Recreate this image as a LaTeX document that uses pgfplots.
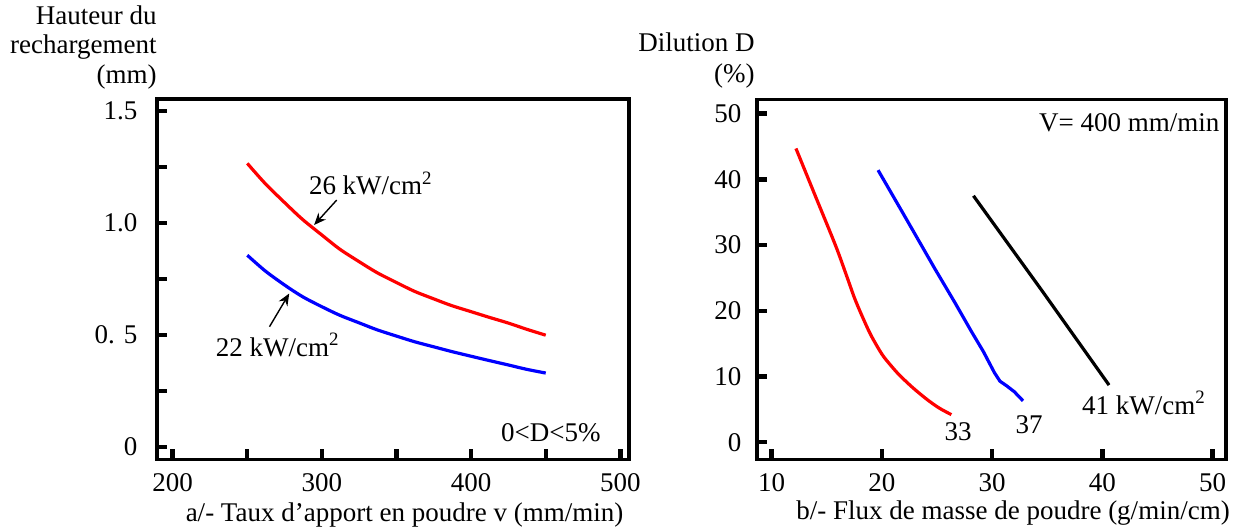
\documentclass[border=0pt]{standalone}
\usepackage{pgfplots}
\pgfplotsset{compat=1.18}
\usepackage{fontspec}
\setmainfont{Liberation Serif}
\usetikzlibrary{arrows.meta}

\definecolor{cred}{RGB}{255,0,0}
\definecolor{cblue}{RGB}{0,0,255}

\pgfplotsset{
  panel/.style={
    scale only axis,
    anchor=south west,
    height=180pt,
    axis line style={line width=1.8pt},
    tick align=inside,
    tick pos=left,
    major tick length=5pt,
    tick style={/tikz/line width=2.2pt, /tikz/black, /tikz/line cap=butt},
    tick label style={font=\fontsize{13.5}{15}\selectfont},
    xticklabel style={anchor=north, inner sep=0pt, yshift=-7pt},
    every axis plot/.append style={line width=1.6pt},
  },
}

\begin{document}
\begin{tikzpicture}
\fontsize{13.5}{15}\selectfont

% a/- hauteur du rechargement
\begin{axis}[panel,
    at={(78.35pt,35.85pt)}, width=236.3pt,
    xmin=189.3, xmax=506, ymin=-0.056, ymax=1.551,
    xtick={200,250,300,350,400,450,500},
    xticklabels={200,,300,,400,,500},
    ytick={0,0.25,0.5,0.75,1.0,1.25,1.5},
    yticklabels={0,,0. 5,,1.0,,1.5},
    yticklabel style={anchor=east, inner sep=0pt, xshift=-9.5pt},
  ]
  % 26 kW/cm2
  \addplot[cred, smooth] coordinates {
    (250,1.265) (262,1.175) (275,1.090) (287,1.015) (300,0.945)
    (312,0.882) (325,0.826) (337,0.777) (350,0.733) (362,0.694)
    (375,0.660) (387,0.630) (400,0.603) (412,0.578) (425,0.552)
    (437,0.525) (450,0.498)
  };
  % 22 kW/cm2
  \addplot[cblue, smooth] coordinates {
    (250,0.855) (262,0.785) (275,0.722) (287,0.670) (300,0.625)
    (312,0.587) (325,0.553) (337,0.522) (350,0.494) (362,0.469)
    (375,0.446) (387,0.425) (400,0.404) (412,0.385) (425,0.365)
    (437,0.346) (450,0.329)
  };
  \node[inner sep=0pt] at (axis cs:332.8,1.176) {26 kW/cm\textsuperscript{2}};
  \draw[line width=0.7pt, -{Stealth[length=6pt,width=5pt]}] (axis cs:309.9,1.101) -- (axis cs:294.8,0.99);
  \node[inner sep=0pt] at (axis cs:270.4,0.454) {22 kW/cm\textsuperscript{2}};
  \draw[line width=0.7pt, -{Stealth[length=6pt,width=5pt]}] (axis cs:264.9,0.536) -- (axis cs:278.1,0.684);
  \node[inner sep=0pt, anchor=east] at (axis cs:487,0.061) {0<D<5\%};
\end{axis}

% b/- dilution
\begin{axis}[panel,
    at={(378.35pt,35.85pt)}, width=234.5pt,
    xmin=8.64, xmax=51.18, ymin=-2.59, ymax=52.18,
    xtick={10,20,30,40,50},
    xticklabels={10,20,30,40,50},
    ytick={0,10,20,30,40,50},
    yticklabels={0,10,20,30,40,50},
    yticklabel style={anchor=east, inner sep=0pt, xshift=-7.5pt},
  ]
  % 33 kW/cm2
  \addplot[cred, smooth] coordinates {
    (12.2,44.7) (14.0,37.3) (15.8,29.9) (16.8,25.3) (17.5,22.0)
    (18.2,19.2) (19.0,16.3) (20.0,13.4) (20.8,11.7) (21.6,10.2)
    (22.8,8.3) (24.1,6.5) (25.2,5.2) (26.3,4.2)
  };
  % 37 kW/cm2
  \addplot[cblue] coordinates {
    (19.65,41.4) (22.2,34.0) (24.8,26.4) (26.6,21.3) (28.1,16.9)
    (29.2,13.8) (30.2,10.6) (30.7,9.3) (31.3,8.6) (32.0,7.7) (32.8,6.3)
  };
  % 41 kW/cm2
  \addplot[black] coordinates {
    (28.3,37.5) (34.5,23.1) (40.6,8.7)
  };
  \node[inner sep=0pt, anchor=east] at (axis cs:50.64,48.57) {V= 400 mm/min};
  \node[inner sep=0pt] at (axis cs:43.77,5.98) {41 kW/cm\textsuperscript{2}};
  \node[inner sep=0pt] at (axis cs:33.36,2.63) {37};
  \node[inner sep=0pt] at (axis cs:26.9,1.57) {33};
\end{axis}

% axis titles
\node[align=right, anchor=east, inner sep=0pt, font=\fontsize{13.5}{14.75}\selectfont]
  at (78.5pt,241.75pt) {Hauteur du\\rechargement\\(mm)};
\node[align=right, anchor=east, inner sep=0pt, font=\fontsize{13.5}{15.5}\selectfont]
  at (377.5pt,235pt) {Dilution D\\(\%)};
\node[inner sep=0pt] at (202.25pt,8pt) {a/- Taux d’apport en poudre v (mm/min)};
\node[inner sep=0pt] at (506.5pt,9pt) {b/- Flux de masse de poudre (g/min/cm)};

\pgfresetboundingbox
\useasboundingbox (0,0) rectangle (619.5pt,265.5pt);
\end{tikzpicture}
\end{document}
